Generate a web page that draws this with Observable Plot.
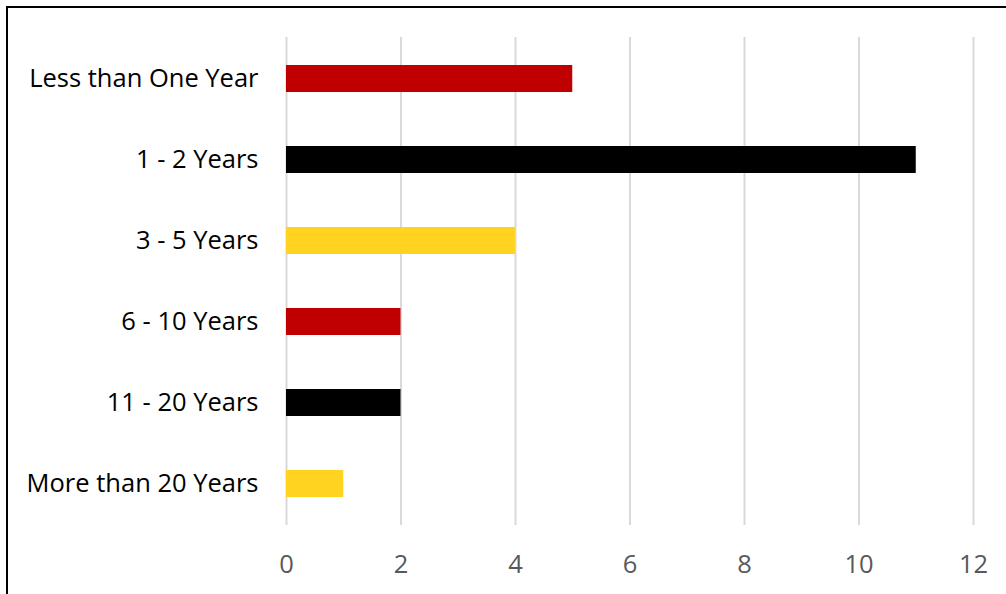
<!DOCTYPE html>
<html>
<head>
<meta charset="utf-8">
<script src="https://cdn.jsdelivr.net/npm/d3@7"></script>
<script src="https://cdn.jsdelivr.net/npm/@observablehq/plot@0.6"></script>
<style>
  html, body { margin: 0; padding: 0; background: #fff; }
  #wrap { position: relative; width: 1006px; height: 594px; overflow: hidden; }
  #border { position: absolute; left: 6px; top: 6px; width: 1100px; height: 700px; border-left: 2px solid #000; border-top: 2px solid #000; pointer-events: none; }
  svg { display: block; }
</style>
</head>
<body>
<div id="wrap"><div id="border"></div></div>
<script>
const categories = ["Less than One Year", "1 - 2 Years", "3 - 5 Years", "6 - 10 Years", "11 - 20 Years", "More than 20 Years"];
const values = [5, 11, 4, 2, 2, 1];
const colors = ["#C00000", "#000000", "#FFD320", "#C00000", "#000000", "#FFD320"];
const xTicks = [0, 2, 4, 6, 8, 10, 12];

const data = categories.map((c, i) => ({category: c, value: values[i], color: colors[i]}));

const chart = Plot.plot({
  width: 1006,
  height: 594,
  marginLeft: 286,
  marginRight: 33,
  marginTop: 37,
  marginBottom: 69,
  style: {fontFamily: "'Open Sans', 'Noto Sans', sans-serif", fontSize: "25.5px", background: "transparent"},
  x: {domain: [0, 12], ticks: xTicks, label: null},
  y: {domain: categories, label: null, paddingInner: 0.67, paddingOuter: 0.335},
  marks: [
    Plot.gridX(xTicks, {stroke: "#D9D9D9", strokeOpacity: 1, strokeWidth: 2}),
    Plot.barX(data, {x: "value", y: "category", fill: "color"}),
    Plot.axisX({ticks: xTicks, tickSize: 0, tickPadding: 29, fill: "#595959", fontSize: 25.5, label: null}),
    Plot.axisY({tickSize: 0, tickPadding: 28, fill: "#000", fontSize: 25.5, label: null})
  ]
});
document.getElementById("wrap").appendChild(chart);
</script>
</body>
</html>
